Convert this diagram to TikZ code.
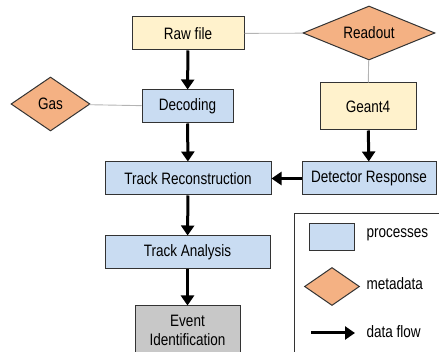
\documentclass[tikz,border=0pt]{standalone}
\usepackage{fontspec}
\setmainfont{Liberation Sans}[FakeStretch=0.82]
\usepackage{tikz}
\usetikzlibrary{shapes,arrows.meta,positioning}

\definecolor{procblue}{HTML}{C9DCF2}
\definecolor{srcyellow}{HTML}{FFF2CC}
\definecolor{metaorange}{HTML}{F4B183}
\definecolor{outgrey}{HTML}{C8C8C8}
\definecolor{linkgrey}{HTML}{B4B4B4}

\tikzset{
    label font/.style={font=\fontsize{16.5}{19}\selectfont},
    box/.style={draw=black!80, line width=1pt, inner sep=0pt, align=center, label font},
    process/.style={box, fill=procblue},
    source/.style={box, fill=srcyellow},
    meta/.style={box, diamond, aspect=2.4, fill=metaorange},
    flow/.style={line width=3pt, -{Triangle[length=10pt,width=13pt]}},
    link/.style={draw=linkgrey, line width=0.9pt}
}

\begin{document}
\begin{tikzpicture}[x=1pt,y=-1pt]
    \useasboundingbox (0,0) rectangle (439,352);

    % Inputs and metadata
    \node[source, minimum width=112, minimum height=33] (raw) at (188,33.5) {Raw file};
    \node[meta, minimum width=132, minimum height=54] (readout) at (369,33) {Readout};
    \node[meta, minimum width=79, minimum height=54] (gas) at (50.5,104) {Gas};
    \node[source, minimum width=96, minimum height=47] (geant) at (368,106.5) {Geant4};

    % Processing chain
    \node[process, minimum width=91, minimum height=33] (decoding) at (187.5,106.5) {Decoding};
    \node[process, minimum width=166, minimum height=33] (reco) at (188,178.5) {Track Reconstruction};
    \node[process, minimum width=134, minimum height=33] (response) at (369,178.5) {Detector Response};
    \node[process, minimum width=165, minimum height=33] (analysis) at (187.5,252.5) {Track Analysis};
    \node[box, fill=outgrey, minimum width=105, minimum height=48] (eventid) at (187.5,330) {Event\\Identification};

    % Metadata links
    \draw[link] (raw) -- (readout);
    \draw[link] (readout) -- (geant);
    \draw[link] (gas) -- (decoding);

    % Data flow
    \draw[flow] (raw) -- (decoding);
    \draw[flow] (decoding) -- (reco);
    \draw[flow] (geant) -- (response);
    \draw[flow] (response) -- (reco);
    \draw[flow] (reco) -- (analysis);
    \draw[flow] (analysis) -- (eventid);

    % Legend
    \draw[line width=1pt, draw=black!80, fill=white] (294,214) rectangle (450,370);
    \node[process, minimum width=45, minimum height=27] (keyproc) at (331.5,237.5) {};
    \node[meta, minimum width=55, minimum height=38] (keymeta) at (332,286.5) {};
    \coordinate (keyflowa) at (311,333);
    \coordinate (keyflowb) at (355,333);
    \draw[flow] (keyflowa) -- (keyflowb);
    \node[anchor=west, label font] (keyproctext) at (363,235) {processes};
    \node[anchor=west, label font] (keymetatext) at (363,284) {metadata};
    \node[anchor=west, label font] (keyflowtext) at (363,332) {data flow};
\end{tikzpicture}
\end{document}
